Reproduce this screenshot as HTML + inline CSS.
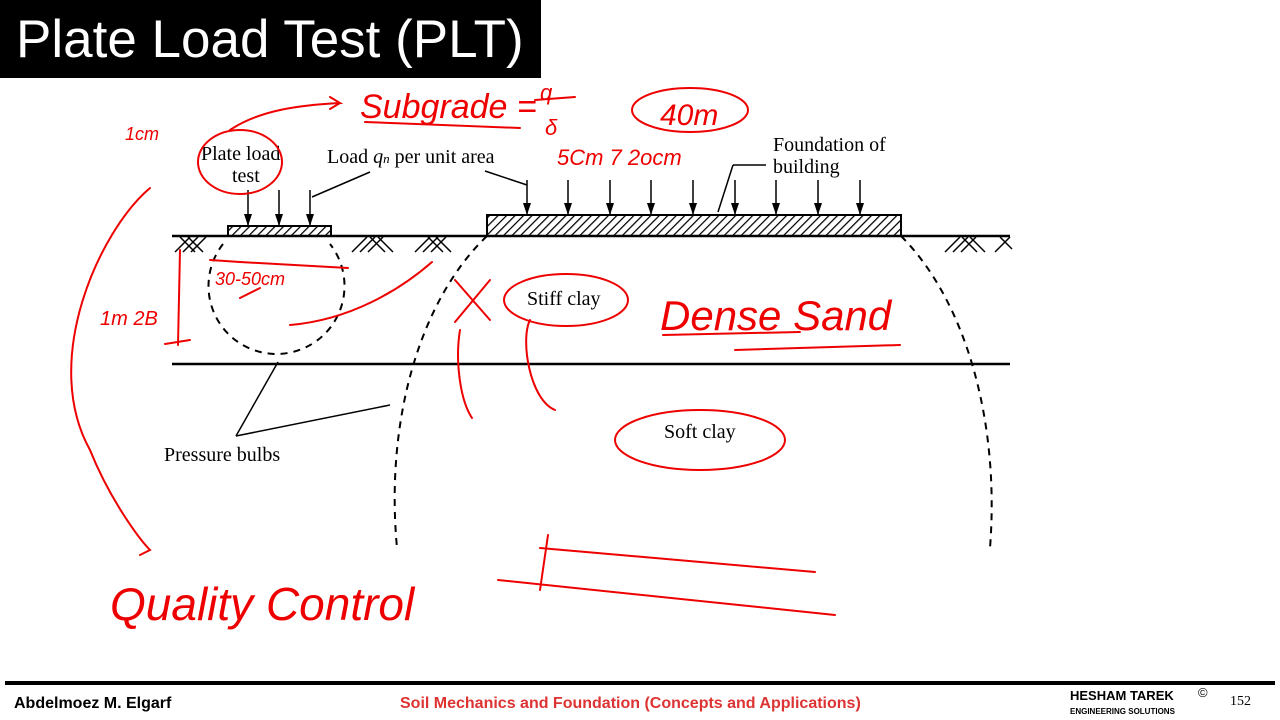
<!DOCTYPE html>
<html><head><meta charset="utf-8"><style>
body{margin:0;width:1280px;height:720px;background:#fff;overflow:hidden;position:relative;font-family:"Liberation Sans",sans-serif}
.t{position:absolute;left:0;top:0;width:541px;height:78px;background:#000;color:#fff;font-size:53px;line-height:80px;padding-left:16px;box-sizing:border-box;white-space:nowrap}
</style></head><body>
<div class="t">Plate Load Test (PLT)</div>
<svg width="1280" height="720" style="position:absolute;left:0;top:0">
<defs>
<pattern id="h" width="6" height="6" patternUnits="userSpaceOnUse" patternTransform="rotate(45)"><line x1="0" y1="0" x2="0" y2="6" stroke="#000" stroke-width="2.5"/></pattern>
<marker id="a" markerWidth="12" markerHeight="8" refX="11" refY="4" orient="auto" markerUnits="userSpaceOnUse"><path d="M0,0 L12,4 L0,8 z" fill="#000"/></marker>
</defs>
<g stroke="#000" stroke-width="2.5" fill="none">
<line x1="172" y1="236" x2="1010" y2="236"/>
<line x1="172" y1="364" x2="1010" y2="364"/>
</g>
<rect x="228" y="226" width="103" height="10" fill="url(#h)" stroke="#000" stroke-width="2"/>
<rect x="487" y="215" width="414" height="21" fill="url(#h)" stroke="#000" stroke-width="2"/>
<g stroke="#000" stroke-width="1.5" fill="none">
<path d="M175,252 l15,-15 M183,252 l15,-15 M191,252 l15,-15 M180,237 l15,15 M188,237 l15,15"/>
<path d="M352,252 l15,-15 M360,252 l15,-15 M368,252 l15,-15 M370,237 l15,15 M378,237 l15,15"/>
<path d="M415,252 l15,-15 M423,252 l15,-15 M431,252 l15,-15 M428,237 l15,15 M436,237 l15,15"/>
<path d="M945,252 l15,-15 M953,252 l15,-15 M961,252 l15,-15 M962,237 l15,15 M970,237 l15,15 M995,252 l15,-15 M1000,237 l12,12"/>
</g>
<g stroke="#000" stroke-width="1.5" marker-end="url(#a)">
<line x1="248" y1="190" x2="248" y2="225"/><line x1="279" y1="190" x2="279" y2="225"/><line x1="310" y1="190" x2="310" y2="225"/>
<line x1="527" y1="180" x2="527" y2="214"/><line x1="568" y1="180" x2="568" y2="214"/><line x1="610" y1="180" x2="610" y2="214"/><line x1="651" y1="180" x2="651" y2="214"/><line x1="693" y1="180" x2="693" y2="214"/><line x1="735" y1="180" x2="735" y2="214"/><line x1="776" y1="180" x2="776" y2="214"/><line x1="818" y1="180" x2="818" y2="214"/><line x1="860" y1="180" x2="860" y2="214"/>
</g>
<g stroke="#000" stroke-width="1.5" fill="none">
<line x1="370" y1="172" x2="312" y2="197"/><line x1="485" y1="171" x2="527" y2="185"/><line x1="733" y1="165" x2="766" y2="165"/><line x1="733" y1="165" x2="718" y2="212"/>
<line x1="236" y1="436" x2="278" y2="362"/><line x1="236" y1="436" x2="390" y2="405"/>
</g>
<g stroke="#000" stroke-width="2" fill="none" stroke-dasharray="7,6">
<path d="M223,244 A68,68 0 1 0 330,244"/>
<path d="M487,236 C420,300 385,420 397,548"/>
<path d="M901,236 C965,300 1000,420 990,548"/>
</g>
<g font-family="Liberation Serif,serif" font-size="20" fill="#000">
<text x="201" y="160">Plate load</text><text x="232" y="182">test</text>
<text x="327" y="163">Load <tspan font-style="italic">q</tspan><tspan font-size="13" font-style="italic">n</tspan> per unit area</text>
<text x="773" y="151">Foundation of</text><text x="773" y="173">building</text>
<text x="527" y="305">Stiff clay</text><text x="664" y="438">Soft clay</text>
<text x="164" y="461">Pressure bulbs</text>
</g>
<g stroke="#e00" stroke-width="2" fill="none" stroke-linecap="round">
<ellipse cx="240" cy="162" rx="42" ry="32"/>
<path d="M230,130 C260,110 300,105 340,103 l-10,-6 M340,103 l-10,6"/>
<path d="M365,122 L520,128 M535,100 L575,97"/>
<ellipse cx="690" cy="110" rx="58" ry="22"/>
<ellipse cx="566" cy="300" rx="62" ry="26"/>
<ellipse cx="700" cy="440" rx="85" ry="30"/>
<path d="M530,320 C520,340 530,400 555,410 M460,330 C455,360 460,400 472,418"/>
<path d="M210,260 L240,262 L348,268 M240,298 l20,-10 M290,325 C350,320 400,290 432,262"/>
<path d="M180,250 L178,345 M165,344 L190,340"/>
<path d="M455,280 L490,320 M490,280 L455,322"/>
<path d="M150,188 C100,230 40,360 90,450 C110,500 140,540 150,550 l-10,5"/>
<path d="M735,350 L900,345 M663,335 L800,332"/>
<path d="M498,580 L835,615 M540,548 L815,572 M548,535 L540,590"/>
</g>
<g font-family="Liberation Sans,sans-serif" fill="#e00" font-style="italic">
<text x="360" y="118" font-size="34">Subgrade = </text>
<text x="540" y="100" font-size="22">q</text><text x="545" y="135" font-size="22">δ</text>
<text x="660" y="125" font-size="30">40m</text>
<text x="125" y="140" font-size="18">1cm</text>
<text x="557" y="165" font-size="22">5Cm 7  2ocm</text>
<text x="215" y="285" font-size="18">30-50cm</text>
<text x="100" y="325" font-size="20">1m 2B</text>
<text x="660" y="330" font-size="42">Dense Sand</text>
<text x="110" y="620" font-size="46">Quality Control</text>
</g>
<line x1="5" y1="683" x2="1275" y2="683" stroke="#000" stroke-width="4"/>
<text x="14" y="708" font-size="16" font-weight="bold" fill="#000">Abdelmoez M. Elgarf</text>
<text x="400" y="708" font-size="16" font-weight="bold" fill="#d33">Soil Mechanics and Foundation (Concepts and Applications)</text>
<text x="1070" y="700" font-size="13" font-weight="bold">HESHAM TAREK</text>
<text x="1198" y="697" font-size="13">©</text>
<text x="1070" y="714" font-size="8" font-weight="bold">ENGINEERING SOLUTIONS</text>
<text x="1230" y="705" font-size="14" font-family="Liberation Serif,serif">152</text>
</svg>
</body></html>
